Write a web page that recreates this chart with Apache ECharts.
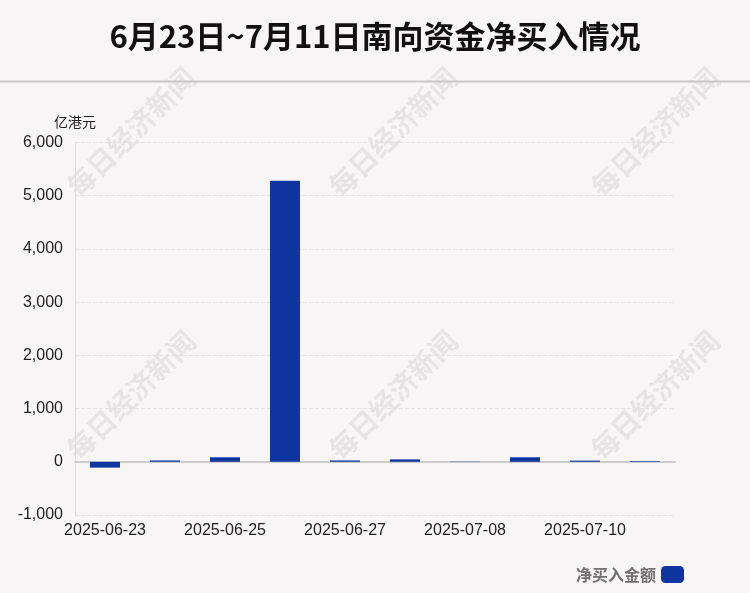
<!DOCTYPE html>
<html><head><meta charset="utf-8">
<script src="https://cdn.jsdelivr.net/npm/echarts@6/dist/echarts.min.js"></script>
<style>html,body{margin:0;padding:0;background:#f8f5f6}#c{width:750px;height:593px}</style>
</head><body><div id="c"></div>
<script>
const categories = ['2025-06-23','2025-06-24','2025-06-25','2025-06-26','2025-06-27','2025-07-07','2025-07-08','2025-07-09','2025-07-10','2025-07-11'];
const netBuy = [-110, 25, 85, 5280, 25, 45, -5, 85, 22, 12];
const yTicks = {min: -1000, max: 6000, interval: 1000};
const titleText = '6月23日~7月11日南向资金净买入情况';
const unitText = '亿港元';
const seriesName = '净买入金额';
const watermark = '每日经济新闻';

const chart = echarts.init(document.getElementById('c'));
const wmPos = [[131,132],[393,132],[655,132],[131,395],[393,395],[655,395]];
const graphics = [{type:'line', shape:{x1:0,y1:81.5,x2:750,y2:81.5}, style:{stroke:'#c8c8c8', lineWidth:2}, z:10}];
wmPos.forEach(p => graphics.push({type:'text', x:p[0], y:p[1], rotation:Math.PI/4, style:{text:watermark, fill:'rgba(190,190,190,0.3)', font:'bold 28px "Noto Sans CJK SC"', align:'center', verticalAlign:'middle'}, z:0, silent:true}));
chart.setOption({
  backgroundColor:'#f8f5f6',
  title:{text:titleText, left:'center', top:16, textStyle:{fontSize:31, fontWeight:'bold', color:'#111', fontFamily:'"Noto Sans CJK SC"'}},
  graphic: graphics,
  grid:{left:75, right:75, top:142.5, bottom:78},
  legend:{right:61, bottom:5, itemWidth:23, itemHeight:17, itemGap:6, align:'right', icon:'roundRect',
    textStyle:{fontSize:16, fontWeight:'bold', color:'#707070', fontFamily:'"Noto Sans CJK SC"'}},
  xAxis:{type:'category', data:categories,
    axisLine:{onZero:true, lineStyle:{color:'#cccccc', width:2}}, axisTick:{show:false},
    axisLabel:{interval:1, fontSize:16, color:'#222', fontFamily:'"Liberation Sans"', margin:8, hideOverlap:false}},
  yAxis:{type:'value', min:yTicks.min, max:yTicks.max, interval:yTicks.interval,
    name:unitText, nameLocation:'end', nameGap:14, nameTextStyle:{fontSize:14, color:'#222', fontFamily:'"Noto Sans CJK SC"', align:'center', padding:[0,0,0,0]},
    axisLine:{show:true, lineStyle:{color:'#dddddd'}}, axisTick:{show:false},
    axisLabel:{fontSize:16, color:'#222', fontFamily:'"Liberation Sans"', margin:12, formatter: v => v.toLocaleString('en-US')},
    splitLine:{lineStyle:{type:'dashed', color:'#e3e3e3'}}},
  series:[{name:seriesName, type:'bar', data:netBuy, barWidth:30, itemStyle:{color:'#0f35a0'}}]
});
</script></body></html>
